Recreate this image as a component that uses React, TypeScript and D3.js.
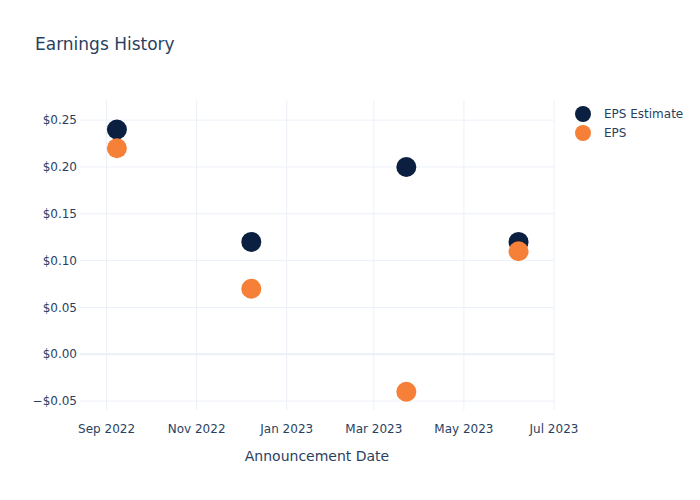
import React from "react";
import * as d3 from "d3";

const dates = ["2022-09-08", "2022-12-08", "2023-03-23", "2023-06-07"];
const epsEstimate = [0.24, 0.12, 0.2, 0.12];
const epsActual = [0.22, 0.07, -0.04, 0.11];
const yTicks = [-0.05, 0, 0.05, 0.1, 0.15, 0.2, 0.25];
const xTicks = ["2022-09-01", "2022-11-01", "2023-01-01", "2023-03-01", "2023-05-01", "2023-07-01"];
const seriesNames = ["EPS Estimate", "EPS"];
const seriesColors = ["#0b1f41", "#f68038"];

const W = 700;
const H = 500;
const margin = { top: 100, right: 146, bottom: 90, left: 80 };
const font = "'DejaVu Sans', sans-serif";
const textColor = "#2a3f5f";
const gridColor = "#ebf0f8";

const parse = d3.utcParse("%Y-%m-%d");

const App: React.FC = () => {
  const x = d3
    .scaleUtc()
    .domain([parse("2022-08-14")!, parse("2023-07-01")!])
    .range([margin.left, W - margin.right]);
  const y = d3
    .scaleLinear()
    .domain([-0.0595, 0.2715])
    .range([H - margin.bottom, margin.top]);

  const fmtX = d3.utcFormat("%b %Y");
  const fmtY = (v: number) => (v < 0 ? "\u2212" : "") + "$" + Math.abs(v).toFixed(2);

  const series = [epsEstimate, epsActual];

  return (
    <svg width={W} height={H} style={{ display: "block", position: "absolute", left: 0, top: 0, fontFamily: font }}>
      <rect width={W} height={H} fill="#fff" />
      <text x={35} y={50} fontSize={17} fill={textColor}>
        Earnings History
      </text>

      {xTicks.map((t) => (
        <line
          key={t}
          x1={x(parse(t)!)}
          x2={x(parse(t)!)}
          y1={margin.top}
          y2={H - margin.bottom}
          stroke={gridColor}
          strokeWidth={1}
        />
      ))}
      {yTicks.map((t) => (
        <line
          key={t}
          x1={margin.left}
          x2={W - margin.right}
          y1={y(t)}
          y2={y(t)}
          stroke={gridColor}
          strokeWidth={t === 0 ? 2 : 1}
        />
      ))}

      {yTicks.map((t) => (
        <text key={t} x={margin.left - 3} y={y(t)} dy="0.35em" textAnchor="end" fontSize={12} fill={textColor}>
          {fmtY(t)}
        </text>
      ))}
      {xTicks.map((t) => (
        <text
          key={t}
          x={x(parse(t)!)}
          y={H - margin.bottom + 23}
          textAnchor="middle"
          fontSize={12}
          fill={textColor}
        >
          {fmtX(parse(t)!)}
        </text>
      ))}
      <text
        x={(margin.left + W - margin.right) / 2}
        y={461}
        textAnchor="middle"
        fontSize={14}
        fill={textColor}
      >
        Announcement Date
      </text>

      {series.map((vals, si) =>
        vals.map((v, i) => (
          <circle key={si + "-" + i} cx={x(parse(dates[i])!)} cy={y(v)} r={10} fill={seriesColors[si]} />
        ))
      )}

      {seriesNames.map((n, i) => (
        <g key={n} transform={`translate(583,${114 + i * 19})`}>
          <circle r={8} fill={seriesColors[i]} />
          <text x={21} dy="0.35em" fontSize={12} fill={textColor}>
            {n}
          </text>
        </g>
      ))}
    </svg>
  );
};

export default App;
